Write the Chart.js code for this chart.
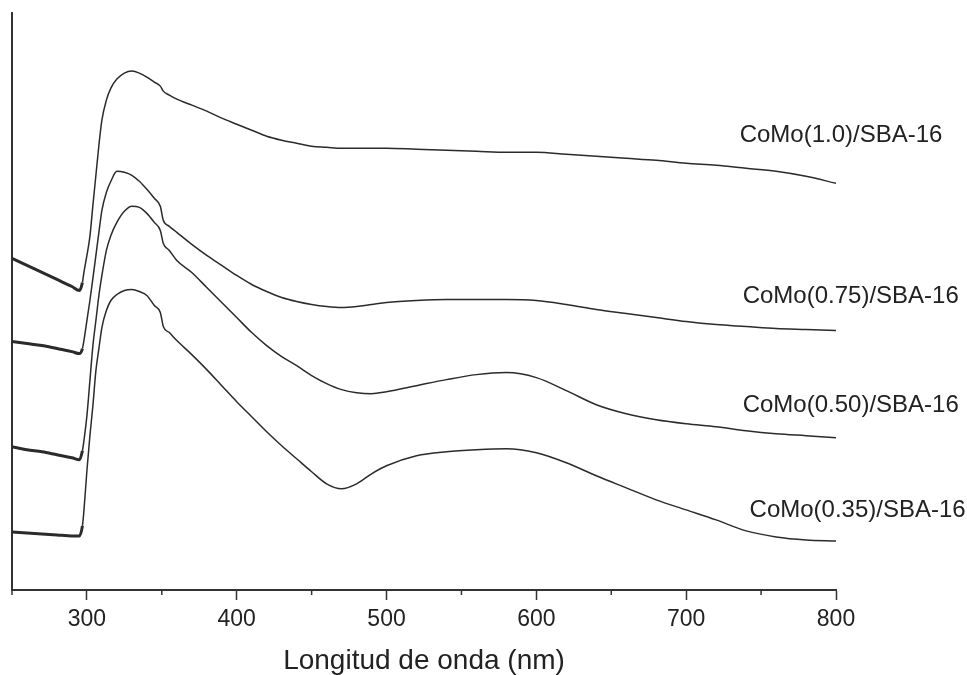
<!DOCTYPE html>
<html>
<head>
<meta charset="utf-8">
<script src="https://cdn.jsdelivr.net/npm/chart.js@4.4.1/dist/chart.umd.min.js"></script>
<style>
  body { margin: 0; background: #fff; }
  #wrap { width: 967px; height: 675px; }
</style>
</head>
<body>
<div id="wrap"><canvas id="myChart" width="967" height="675"></canvas></div>
<script>
// longitud de onda (nm)
let longitud = [250, 260, 270, 280, 290, 295, 297, 298, 300, 302, 304, 306, 308, 310, 313, 316, 320, 325, 330, 335, 340, 345, 349, 351, 355, 360,
    370, 380, 390, 400, 410, 420, 430, 440, 450, 460, 470, 480, 490, 500,
    520, 540, 560, 580, 600, 620, 640, 660, 680, 700, 720, 740, 760, 780, 800];

// intensidad (u.a., curvas desplazadas)
let como_100 = [331, 324, 317, 310, 303, 299, 307, 317, 334, 353, 384, 414, 444, 469, 489, 501, 510, 516, 518, 516, 512, 507, 503, 498, 494, 490,
    484, 478, 471, 465, 459, 453, 449, 446, 443, 442, 441, 441, 441, 441,
    440, 439, 438, 437, 437, 435, 433, 431, 429, 426, 424, 421, 418, 413, 406];
let como_075 = [248, 246, 244, 241, 238, 236, 241, 249, 269, 289, 311, 334, 357, 379, 397, 408, 418, 417, 414, 408, 400, 391, 383, 369, 363, 357,
    345, 334, 324, 314, 305, 298, 292, 288, 285, 283, 282, 283, 285, 287,
    289, 290, 290, 290, 289, 285, 280, 276, 272, 268, 265, 263, 261, 260, 259];
let como_050 = [143, 140, 138, 135, 132, 130, 139, 149, 174, 209, 244, 269, 294, 314, 339, 354, 367, 378, 383, 382, 376, 367, 359, 346, 339, 329,
    317, 302, 287, 272, 257, 244, 233, 224, 214, 206, 200, 197, 196, 198,
    204, 210, 215, 217, 212, 199, 185, 176, 170, 166, 163, 159, 156, 154, 152];
let como_035 = [58, 57, 56, 55, 54, 54, 64, 79, 119, 154, 184, 219, 241, 262, 279, 289, 295, 299, 300, 298, 294, 284, 277, 263, 257, 249,
    235, 220, 204, 188, 173, 158, 144, 131, 118, 106, 101, 106, 116, 124,
    134, 138, 140, 141, 137, 127, 114, 102, 90, 80, 70, 59, 53, 50, 49];

// etiquetas de las curvas (posicion en unidades de datos)
let etiquetas = ['CoMo(1.0)/SBA-16', 'CoMo(0.75)/SBA-16', 'CoMo(0.50)/SBA-16', 'CoMo(0.35)/SBA-16'];
let etiqueta_x = [735.7, 737.7, 737.7, 742.3];
let etiqueta_y = [454, 293, 184, 79];

let x_ticks = [250, 300, 350, 400, 450, 500, 550, 600, 650, 700, 750, 800];

let color_linea = '#2b2b2b';
let fuente = 'Arial, "Liberation Sans", Helvetica, sans-serif';

function serie(valores) {
    return {
        data: longitud.map((x, i) => ({ x: x, y: valores[i] })),
        borderColor: color_linea,
        borderWidth: 1.5,
        pointRadius: 0,
        cubicInterpolationMode: 'monotone',
        segment: {
            // parte ruidosa antes del borde de absorcion se ve mas gruesa
            borderWidth: ctx => ctx.p1.parsed.x <= 297 ? 3 : 1.5
        }
    };
}

// texto de las curvas + ticks menores
const extras = {
    id: 'extras',
    afterDraw(chart) {
        const ctx = chart.ctx;
        const xs = chart.scales.x;
        const ys = chart.scales.y;
        ctx.save();
        ctx.strokeStyle = '#333';
        ctx.lineWidth = 1.5;
        x_ticks.forEach(v => {
            if (v % 100 !== 0) {
                let px = xs.getPixelForValue(v);
                ctx.beginPath();
                ctx.moveTo(px, xs.top);
                ctx.lineTo(px, xs.top + 5);
                ctx.stroke();
            }
        });
        ctx.fillStyle = '#222';
        ctx.font = '24px ' + fuente;
        ctx.textAlign = 'left';
        ctx.textBaseline = 'middle';
        etiquetas.forEach((t, i) => {
            ctx.fillText(t, xs.getPixelForValue(etiqueta_x[i]), ys.getPixelForValue(etiqueta_y[i]));
        });
        ctx.restore();
    }
};

var ctx = document.getElementById('myChart').getContext('2d');
var chart = new Chart(ctx, {
    type: 'line',
    data: {
        datasets: [serie(como_100), serie(como_075), serie(como_050), serie(como_035)]
    },
    options: {
        responsive: false,
        animation: false,
        layout: { padding: { left: 12, right: 131, top: 13, bottom: 0 } },
        plugins: {
            legend: { display: false },
            tooltip: { enabled: false }
        },
        scales: {
            x: {
                type: 'linear',
                min: 250,
                max: 800,
                afterBuildTicks: scale => { scale.ticks = x_ticks.map(v => ({ value: v })); },
                ticks: {
                    autoSkip: false,
                    maxRotation: 0,
                    padding: 8,
                    color: '#222',
                    font: { family: fuente, size: 23, lineHeight: 1 },
                    callback: v => v % 100 === 0 ? v : ''
                },
                grid: {
                    drawOnChartArea: false,
                    tickLength: 10,
                    tickWidth: 1.5,
                    tickColor: c => (c.tick && c.tick.value % 100 === 0) ? '#333' : 'rgba(0,0,0,0)'
                },
                border: { display: true, color: '#333', width: 2 },
                title: {
                    display: true,
                    text: 'Longitud de onda (nm)',
                    color: '#222',
                    font: { family: fuente, size: 28, lineHeight: 1 },
                    padding: { top: 8, bottom: 0 }
                }
            },
            y: {
                min: 0,
                max: 576,
                ticks: { display: false },
                grid: { display: false, drawTicks: false },
                border: { display: true, color: '#333', width: 2 }
            }
        }
    },
    plugins: [extras]
});
</script>
</body>
</html>
